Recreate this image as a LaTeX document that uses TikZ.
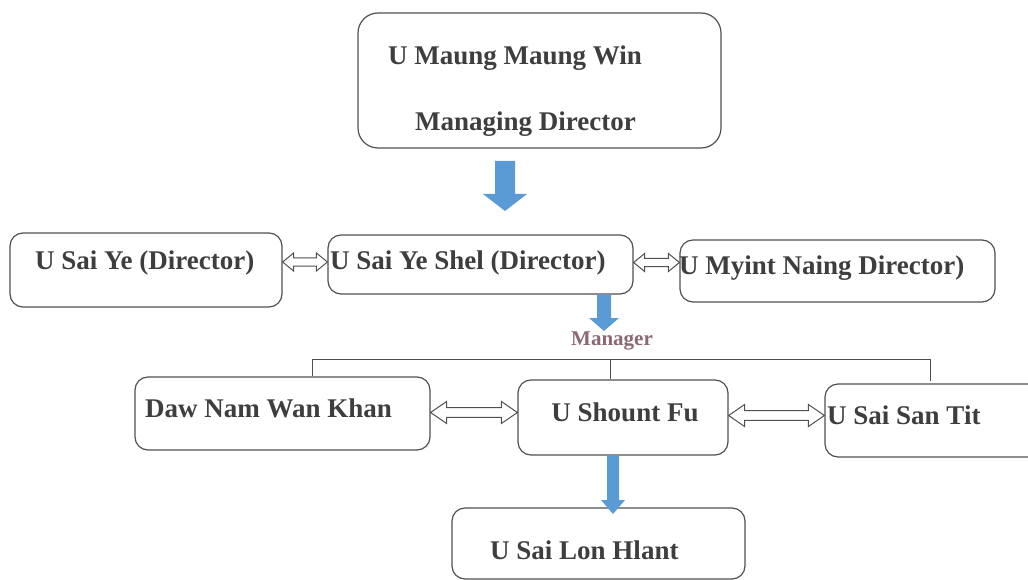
\documentclass[tikz,border=0pt]{standalone}
\usepackage{fontspec}
\setmainfont{Liberation Serif}
\usetikzlibrary{calc}
\definecolor{txtgray}{RGB}{62,62,62}
\definecolor{linegray}{RGB}{80,80,80}
\definecolor{arrowblue}{RGB}{91,155,213}
\definecolor{mgrcol}{RGB}{140,104,114}
\newcommand\dblarrow[4]{%
  \draw[dblstyle] let \p1=(#1), \p2=(#2) in
    (\x1,\y1) -- (\x1+#3,\y1+#4) -- (\x1+#3,\y1+0.45*#4) -- (\x2-#3,\y1+0.45*#4)
    -- (\x2-#3,\y1+#4) -- (\x2,\y1) -- (\x2-#3,\y1-#4) -- (\x2-#3,\y1-0.45*#4)
    -- (\x1+#3,\y1-0.45*#4) -- (\x1+#3,\y1-#4) -- cycle;}
\newcommand\blockarrow[5]{%
  \fill[arrowblue] let \p1=(#1), \p2=(#2) in
    (\x1-#3,\y1) -- (\x1+#3,\y1) -- (\x1+#3,\y2+#5) -- (\x1+#4,\y2+#5)
    -- (\x1,\y2) -- (\x1-#4,\y2+#5) -- (\x1-#3,\y2+#5) -- cycle;}
\begin{document}
\begin{tikzpicture}[x=1pt,y=-1pt,
  box/.style={draw=linegray, line width=1.2pt, rounded corners=13pt, inner sep=0pt},
  lbl/.style={text=txtgray, font=\fontsize{27pt}{30pt}\selectfont\bfseries, inner sep=0pt},
  dblstyle/.style={draw=linegray, line width=1pt, fill=white, line join=miter},
  brk/.style={draw=linegray, line width=1pt}]
\useasboundingbox (0,0) rectangle (1028,580);
\clip (0,0) rectangle (1028,580);
% boxes
\node[box, rounded corners=20pt, minimum width=363pt, minimum height=135pt] (top) at (539.5,80.5) {};
\node[box, minimum width=272pt, minimum height=74pt] (saiye) at (146,270) {};
\node[box, minimum width=305pt, minimum height=59pt] (shel) at (480.5,264.5) {};
\node[box, minimum width=315pt, minimum height=62pt] (myint) at (837.5,271) {};
\node[box, minimum width=295pt, minimum height=73pt] (daw) at (282.5,413.5) {};
\node[box, minimum width=210pt, minimum height=75pt] (shount) at (623,417.5) {};
\node[box, minimum width=235pt, minimum height=73pt] (santit) at (942.5,420.5) {};
\node[box, minimum width=293pt, minimum height=71pt] (lon) at (598.5,543.5) {};
% texts
\node[lbl, anchor=west] (t1) at (388,58) {U Maung Maung Win};
\node[lbl, anchor=west] (t2) at (415,124) {Managing Director};
\node[lbl, anchor=west] (t3) at (35,263) {U Sai Ye (Director)};
\node[lbl, anchor=west] (t4) at (330,263) {U Sai Ye Shel (Director)};
\node[lbl, anchor=west] (t5) at (679,268) {U Myint Naing Director)};
\node[lbl, anchor=west] (t6) at (145,408) {Daw Nam Wan Khan};
\node[lbl] (t7) at (625,412) {U Shount Fu};
\node[lbl, anchor=west] (t8) at (827,415) {U Sai San Tit};
\node[lbl, anchor=west] (t9) at (490,550) {U Sai Lon Hlant};
\node[text=mgrcol, font=\fontsize{21pt}{24pt}\selectfont\bfseries, inner sep=0pt] (mgr) at (612,341) {Manager};
% blue arrows
\coordinate (a1s) at (505,161);
\coordinate (a1e) at (505,211);
\blockarrow{a1s}{a1e}{10pt}{22pt}{17pt}
\coordinate (a2s) at (shel.south -| 604,0);
\coordinate (a2e) at (604,331);
\blockarrow{a2s}{a2e}{7pt}{15pt}{13pt}
\coordinate (a3s) at (shount.south -| 613,0);
\coordinate (a3e) at (613,514);
\blockarrow{a3s}{a3e}{6pt}{12pt}{14pt}
% double arrows
\dblarrow{[yshift=8pt]saiye.east}{[yshift=8pt]shel.west -| shel.west}{11pt}{9pt}
\dblarrow{[yshift=2pt]shel.east}{myint.west}{11pt}{9pt}
\dblarrow{[yshift=1pt]daw.east}{shount.west}{16pt}{11pt}
\dblarrow{[yshift=2pt]shount.east}{santit.west}{16pt}{11pt}
% bracket
\coordinate (bl) at (312,359);
\coordinate (bm) at (610,359);
\coordinate (br) at (930,359);
\draw[brk] (bl |- daw.north) -- (bl) -- (br) -- ++(0,22);
\draw[brk] (bm) -- (bm |- shount.north);
\end{tikzpicture}
\end{document}
